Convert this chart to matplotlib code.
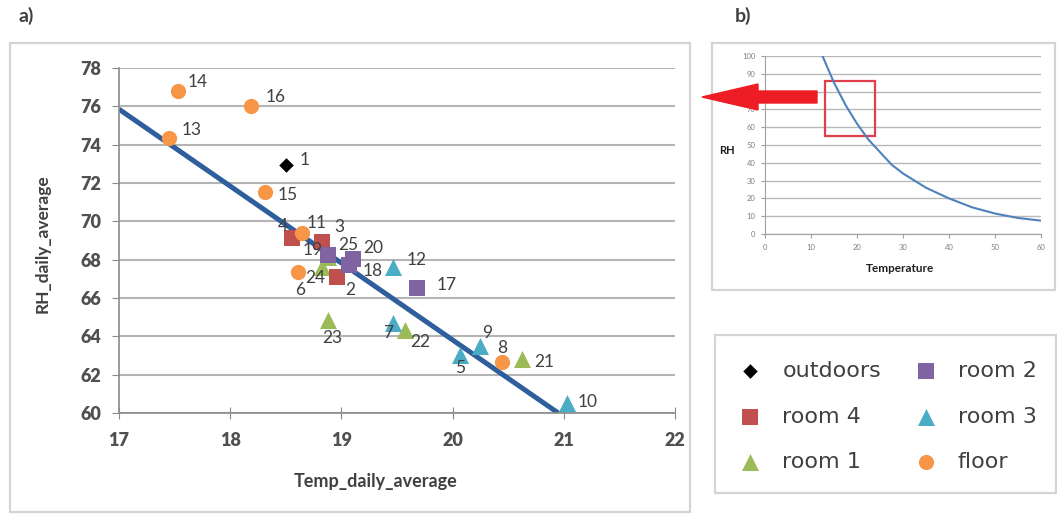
import matplotlib.pyplot as plt
import matplotlib.patches as mpatches
from matplotlib.transforms import IdentityTransform

plt.rcParams['font.family'] = ['Lato', 'DejaVu Sans']

# daily averages per measuring point (id, temperature, RH)
outdoors_id = [1]
outdoors_t = [18.50]
outdoors_rh = [72.94]

room4_id = [2, 3, 4]
room4_t = [18.96, 18.83, 18.56]
room4_rh = [67.10, 68.92, 69.13]

room1_id = [19, 21, 22, 23, 24]
room1_t = [18.88, 20.62, 19.57, 18.88, 18.83]
room1_rh = [68.14, 62.82, 64.33, 64.85, 67.62]

room2_id = [17, 18, 20, 25]
room2_t = [19.68, 19.07, 19.10, 18.88]
room2_rh = [66.52, 67.72, 68.04, 68.25]

room3_id = [5, 7, 9, 10, 12]
room3_t = [20.07, 19.46, 20.25, 21.03, 19.46]
room3_rh = [63.03, 64.70, 63.50, 60.52, 67.62]

floor_id = [6, 8, 11, 13, 14, 15, 16]
floor_t = [18.61, 20.44, 18.65, 17.45, 17.53, 18.31, 18.19]
floor_rh = [67.36, 62.66, 69.39, 74.35, 76.80, 71.53, 76.02]

# linear trend line end points
trend_t = [17.0, 20.95]
trend_rh = [75.85, 60.0]

# panel b: RH against temperature
curve_t = [12.5, 15, 17.5, 20, 22.5, 25, 27.5, 30, 35, 40, 45, 50, 55, 60]
curve_rh = [100, 85, 72.5, 62, 53, 46, 39, 34, 26, 20, 15, 11.5, 9, 7.5]
box_t = [13, 24]
box_rh = [55, 86]

# label offsets in pixels (dx, dy) from each marker
lab_off = {1: (14, 5), 2: (8, -13), 3: (12, 15), 4: (-15, 12), 5: (-5, -13),
           6: (-3, -18), 7: (-9, -10), 8: (-4, 14), 9: (2, 13), 10: (10, 1),
           11: (4, 10), 12: (14, 7), 13: (13, 8), 14: (10, 9), 15: (13, -3),
           16: (14, 9), 17: (20, 3), 18: (13, -6), 19: (-25, 7), 20: (11, 11),
           21: (13, -3), 22: (5, -12), 23: (-6, -18), 24: (-17, -11), 25: (10, 10)}

W, H = 1057, 521
fig = plt.figure(figsize=(W / 100, H / 100), dpi=100)


def px(x0, y0, x1, y1):
    # pixel box (top-left origin) -> figure fraction rect
    return [x0 / W, 1 - y1 / H, (x1 - x0) / W, (y1 - y0) / H]


def frame(x0, y0, x1, y1):
    fig.add_artist(mpatches.Rectangle((x0 / W, 1 - y1 / H), (x1 - x0) / W, (y1 - y0) / H,
                                      transform=fig.transFigure, fill=False,
                                      edgecolor='#d4d4d4', lw=1.6))


grey = '#505050'
dark = '#404040'

# ---- panel a
ax = fig.add_axes(px(119, 68, 675, 413))
ax.plot(trend_t, trend_rh, color='#2f5e9c', lw=3.6, solid_capstyle='butt', zorder=2)

series = [
    ('room 1', room1_id, room1_t, room1_rh, '^', '#9bbb59', 150),
    ('room 4', room4_id, room4_t, room4_rh, 's', '#c0504d', 120),
    ('room 3', room3_id, room3_t, room3_rh, '^', '#4bacc6', 150),
    ('room 2', room2_id, room2_t, room2_rh, 's', '#8064a2', 120),
    ('floor', floor_id, floor_t, floor_rh, 'o', '#f79646', 120),
    ('outdoors', outdoors_id, outdoors_t, outdoors_rh, 'D', 'black', 55),
]
handles = {}
for name, ids, t, rh, mk, col, s in series:
    handles[name] = ax.scatter(t, rh, marker=mk, s=s, color=col, linewidths=0, zorder=3, label=name)
    for i, x, y in zip(ids, t, rh):
        ax.annotate(str(i), (x, y), xytext=lab_off[i], textcoords='offset pixels',
                    ha='left', va='center', fontsize=12.5, color=dark, zorder=4)

ax.set_xlim(17, 22)
ax.set_ylim(60, 78)
ax.set_xticks(range(17, 23))
ax.set_yticks(range(60, 79, 2))
ax.grid(axis='y', color='#b4b4b4', lw=1.5)
ax.set_axisbelow(True)
for side in ['top', 'right']:
    ax.spines[side].set_visible(False)
for side in ['left', 'bottom']:
    ax.spines[side].set_color('#8a8a8a')
    ax.spines[side].set_linewidth(1.2)
ax.tick_params(axis='y', direction='out', length=5, color='#8a8a8a', labelsize=13,
               labelcolor=grey, pad=8)
ax.tick_params(axis='x', direction='inout', length=8, color='#8a8a8a', labelsize=13,
               labelcolor=grey, pad=10)
for lab in ax.get_xticklabels() + ax.get_yticklabels():
    lab.set_fontweight('heavy')

fig.text(43 / W, 1 - 244 / H, 'RH_daily_average', rotation=90, ha='center', va='center',
         fontsize=12.5, fontweight='bold', color=dark)
fig.text(376 / W, 1 - 481 / H, 'Temp_daily_average', ha='center', va='center',
         fontsize=13, fontweight='bold', color=dark)
fig.text(18 / W, 1 - 16 / H, 'a)', ha='left', va='center', fontsize=14, fontweight='bold',
         color=dark)
fig.text(735 / W, 1 - 16 / H, 'b)', ha='left', va='center', fontsize=14, fontweight='bold',
         color=dark)

frame(10, 43, 690, 512)

# ---- panel b
axb = fig.add_axes(px(765, 56, 1041, 234))
axb.plot(curve_t, curve_rh, color='#4f81bd', lw=1.5)
axb.add_patch(mpatches.Rectangle((box_t[0], box_rh[0]), box_t[1] - box_t[0],
                                 box_rh[1] - box_rh[0], fill=False,
                                 edgecolor='#e0404a', lw=1.6))
axb.set_xlim(0, 60)
axb.set_ylim(0, 100)
axb.set_xticks(range(0, 61, 10))
axb.set_yticks(range(0, 101, 10))
axb.grid(axis='y', color='#b8b8b8', lw=1.0)
axb.set_axisbelow(True)
for side in ['top', 'right']:
    axb.spines[side].set_visible(False)
for side in ['left', 'bottom']:
    axb.spines[side].set_color('#a0a0a0')
axb.tick_params(direction='out', length=3, color='#a0a0a0', labelsize=5.5,
                labelcolor='#808080', pad=4)
fig.text(727 / W, 1 - 150 / H, 'RH', ha='center', va='center', fontsize=8,
         fontweight='bold', color='#202020')
fig.text(900 / W, 1 - 268 / H, 'Temperature', ha='center', va='center', fontsize=8.5,
         fontweight='bold', color='#202020')

frame(712, 43, 1055, 290)

# arrow pointing from panel b towards panel a
fig.add_artist(mpatches.FancyArrow(817, H - 97, -115, 0, width=12, head_width=26,
                                   head_length=56, length_includes_head=True,
                                   color='#ee1c25', transform=IdentityTransform()))

# ---- legend
order = ['outdoors', 'room 4', 'room 1', 'room 2', 'room 3', 'floor']
fig.legend([handles[k] for k in order], order, ncol=2, loc='upper left',
           bbox_to_anchor=(739 / W, 1 - 361 / H), bbox_transform=fig.transFigure,
           frameon=False, borderpad=0, borderaxespad=0,
           labelspacing=1.15, handlelength=1.0, handletextpad=0.95, columnspacing=1.5,
           labelcolor=dark, prop={'family': ['DejaVu Sans'], 'size': 16})
frame(715, 335, 1056, 493)

fig.savefig('out.png', dpi=100)
